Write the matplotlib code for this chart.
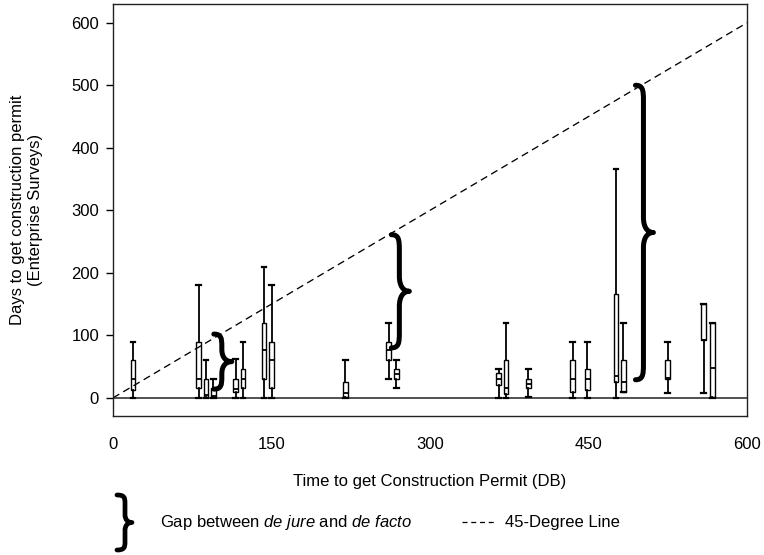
import matplotlib
matplotlib.use("Agg")
import matplotlib.pyplot as plt
from matplotlib.path import Path
from matplotlib.patches import PathPatch

plt.rcParams['font.family'] = ['Liberation Sans', 'DejaVu Sans']
plt.rcParams['mathtext.fontset'] = 'custom'
plt.rcParams['mathtext.rm'] = 'Liberation Sans'
plt.rcParams['mathtext.it'] = 'Liberation Sans:italic'

# ---- data (days) ----
db_days = [19, 81, 88, 95, 116, 123, 143, 150, 220, 261, 268, 365, 372, 393,
           435, 449, 476, 483, 525, 559, 567]
whisker_hi = [90, 180, 61, 30, 62, 90, 210, 180, 61, 120, 61, 46, 120, 46,
              90, 90, 366, 120, 90, 150, 120]
q3_vals = [61, 90, 30, 16, 30, 46, 120, 90, 26, 90, 46, 40, 61, 30,
           61, 46, 166, 61, 61, 150, 120]
median_vals = [30, 30, 4, 3, 14, 30, 76, 61, 8, 76, 38, 30, 15, 22,
               30, 30, 35, 26, 31, 92, 48]
q1_vals = [12, 15, 2, 1, 10, 15, 30, 15, 1, 61, 30, 21, 6, 16,
           9, 12, 26, 9, 30, 92, 1]
whisker_lo = [0, 0, 0, 0, 0, 0, 0, 0, 0, 30, 15, 0, 0, 2,
              0, 0, 0, 9, 7.5, 7.5, 0]

# gap braces: x position (DB days), lower end, upper end (survey days)
brace_x = [103, 271, 502]
brace_lo = [14, 80, 29]
brace_hi = [102, 261, 500]

x_ticks = [0, 150, 300, 450, 600]
y_ticks = [0, 100, 200, 300, 400, 500, 600]

W, H = 764, 555
fig = plt.figure(figsize=(W / 100, H / 100), dpi=100)
ax = fig.add_axes([113 / W, 1 - 416 / H, (747 - 113) / W, (416 - 4) / H])
ax.set_xlim(0, 600)
ax.set_ylim(-29, 630)

stats = []
for m, a, b, c, d in zip(median_vals, q1_vals, q3_vals, whisker_lo, whisker_hi):
    stats.append(dict(med=m, q1=a, q3=b, whislo=c, whishi=d, fliers=[]))

ax.bxp(stats, positions=db_days, widths=4.5, capwidths=4.5, showfliers=False,
       patch_artist=True, manage_ticks=False,
       boxprops=dict(facecolor='white', edgecolor='black', linewidth=1.0),
       medianprops=dict(color='black', linewidth=1.3),
       whiskerprops=dict(color='black', linewidth=1.3),
       capprops=dict(color='black', linewidth=1.6))

# zero line and 45-degree line
ax.axhline(0, color='#333333', lw=1.2, zorder=1)
ax.plot(x_ticks, x_ticks, color='black', lw=0.95, ls=(0, (5.5, 3.5)), zorder=2)


def draw_brace(axis, x0, y0, y1, h_px=8, d_px=10, r_px=15, lw=3.6):
    bb = axis.get_window_extent()
    xl, yl = axis.get_xlim(), axis.get_ylim()
    sx = (xl[1] - xl[0]) / bb.width
    sy = (yl[1] - yl[0]) / bb.height
    h, d = h_px * sx, d_px * sx
    r = min(r_px * sy, (y1 - y0) / 4.5)
    ym = (y0 + y1) / 2
    verts = [
        (x0 - h, y1), (x0 - 0.1 * h, y1), (x0, y1 - 0.3 * r), (x0, y1 - r),
        (x0, ym + r),
        (x0, ym + 0.35 * r), (x0 + 0.4 * d, ym), (x0 + d, ym),
        (x0 + 0.4 * d, ym), (x0, ym - 0.35 * r), (x0, ym - r),
        (x0, y0 + r),
        (x0, y0 + 0.3 * r), (x0 - 0.1 * h, y0), (x0 - h, y0),
    ]
    codes = [Path.MOVETO, Path.CURVE4, Path.CURVE4, Path.CURVE4,
             Path.LINETO,
             Path.CURVE4, Path.CURVE4, Path.CURVE4,
             Path.CURVE4, Path.CURVE4, Path.CURVE4,
             Path.LINETO,
             Path.CURVE4, Path.CURVE4, Path.CURVE4]
    axis.add_patch(PathPatch(Path(verts, codes), fill=False, lw=lw,
                             edgecolor='black', capstyle='round',
                             joinstyle='round', zorder=5))


for bx, blo, bhi in zip(brace_x, brace_lo, brace_hi):
    draw_brace(ax, bx, blo, bhi)

ax.set_xticks(x_ticks)
ax.set_yticks(y_ticks)
ax.tick_params(axis='x', length=0, pad=15, labelsize=12)
ax.tick_params(axis='y', length=5, width=1, pad=5, labelsize=12)
for s in ax.spines.values():
    s.set_linewidth(1.0)
    s.set_color('#222222')

ax.set_xlabel('Time to get Construction Permit (DB)', fontsize=12, labelpad=16)
ax.set_ylabel('Days to get construction permit\n(Enterprise Surveys)', fontsize=12,
              labelpad=20, linespacing=1.25)

# legend area
lax = fig.add_axes([0, 0, 1, 1], zorder=-1)
lax.set_xlim(0, W)
lax.set_ylim(0, H)
lax.axis('off')
draw_brace(lax, 125, H - 550, H - 495, h_px=8, d_px=7, r_px=8, lw=3.4)
fig.text(160 / W, 1 - 522 / H, r'Gap between $\it{de\ jure}$ and $\it{de\ facto}$',
         fontsize=12, va='center', ha='left')
lax.plot([462, 497], [H - 522, H - 522], color='black', lw=0.9, ls=(0, (4, 3)))
fig.text(505 / W, 1 - 522 / H, '45-Degree Line', fontsize=12, va='center', ha='left')

fig.savefig('out.png', dpi=100)
